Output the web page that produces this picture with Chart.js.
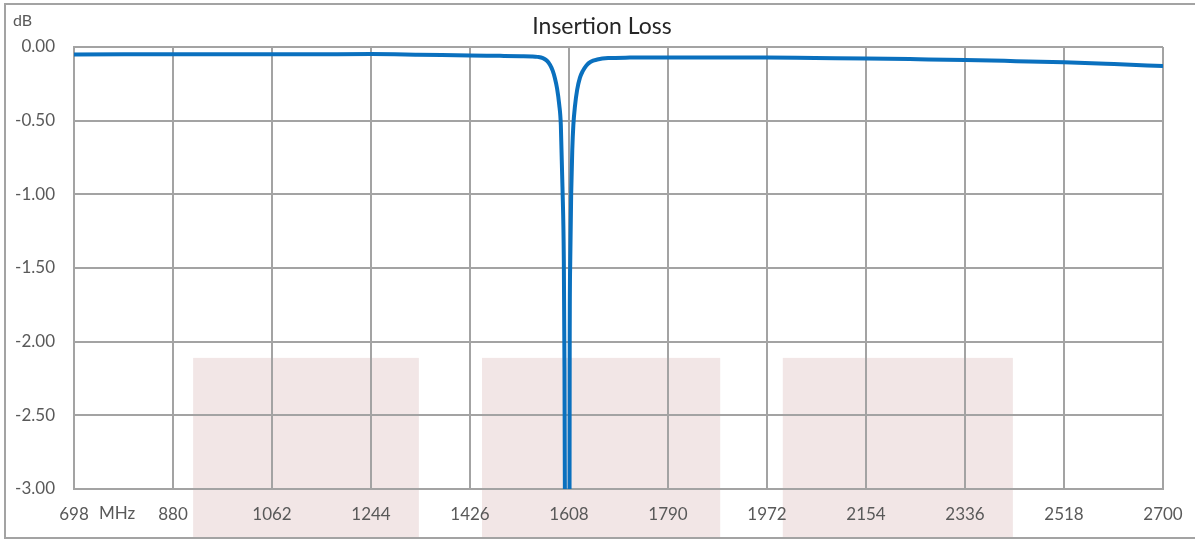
<!DOCTYPE html>
<html>
<head>
<meta charset="utf-8">
<script src="https://cdn.jsdelivr.net/npm/chart.js@4.4.1/dist/chart.umd.min.js"></script>
<style>
  html, body { margin: 0; padding: 0; background: #ffffff; }
  #wrap { width: 1195px; height: 540px; position: relative; }
</style>
</head>
<body>
<div id="wrap"><canvas id="c" width="1195" height="540"></canvas></div>
<script>
// ---- data ----
const titleText = 'Insertion Loss';
const yUnit = 'dB';
const xUnit = 'MHz';
const freqMHz = [698, 790, 880, 970, 1062, 1150, 1244, 1330, 1426, 1481, 1520, 1540, 1550, 1560, 1567, 1573, 1578, 1582, 1586, 1590, 1593, 1596, 1598.5, 1599.4, 1600.4, 1604.8, 1609.0, 1609.3, 1610.3, 1612, 1614, 1616, 1619, 1623, 1628, 1633, 1640, 1648, 1660, 1680, 1720, 1790, 1880, 1972, 2060, 2154, 2250, 2336, 2430, 2518, 2610, 2700];
const lossDb = [-0.051, -0.050, -0.049, -0.049, -0.050, -0.049, -0.048, -0.052, -0.058, -0.060, -0.062, -0.064, -0.067, -0.075, -0.092, -0.12, -0.16, -0.21, -0.28, -0.39, -0.53, -0.95, -1.45, -2.0, -3.0, -20, -3.0, -2.0, -1.45, -1.0, -0.70, -0.53, -0.40, -0.29, -0.21, -0.165, -0.125, -0.10, -0.085, -0.075, -0.072, -0.071, -0.071, -0.072, -0.075, -0.078, -0.083, -0.088, -0.096, -0.104, -0.116, -0.129];
const xTicks = [698, 880, 1062, 1244, 1426, 1608, 1790, 1972, 2154, 2336, 2518, 2700];
const yTicks = [0, -0.5, -1, -1.5, -2, -2.5, -3];
const bandStart = [917, 1448, 2001];
const bandEnd = [1332, 1886, 2424];
const bandTop = -2.11;

const FONT = 'Lato, "Open Sans", sans-serif';
const GRID = '#a3a3a3';
const LABEL = '#595959';

const decor = {
  id: 'decor',
  beforeDraw(chart) {
    const ctx = chart.ctx, x = chart.scales.x, y = chart.scales.y;
    ctx.save();
    ctx.fillStyle = '#f2e6e6';
    const top = y.getPixelForValue(bandTop);
    for (let i = 0; i < bandStart.length; i++) {
      const l = x.getPixelForValue(bandStart[i]);
      const r = x.getPixelForValue(bandEnd[i]);
      ctx.fillRect(l, top, r - l, 537 - top);
    }
    ctx.restore();
  },
  afterDraw(chart) {
    const ctx = chart.ctx, x = chart.scales.x;
    ctx.save();
    // outer frame
    ctx.strokeStyle = GRID;
    ctx.lineWidth = 2;
    ctx.strokeRect(5, 4, 1200, 534);
    // title
    ctx.fillStyle = '#262626';
    ctx.font = '23px ' + FONT;
    ctx.textAlign = 'center';
    ctx.textBaseline = 'middle';
    ctx.fillText(titleText, 602, 27);
    // y unit
    ctx.fillStyle = LABEL;
    ctx.font = '16px ' + FONT;
    ctx.textAlign = 'left';
    ctx.fillText(yUnit, 13, 21);
    // x unit next to first tick
    ctx.font = '17px ' + FONT;
    ctx.fillText(xUnit, x.getPixelForValue(xTicks[0]) + 25, 514);
    ctx.restore();
  }
};

new Chart(document.getElementById('c'), {
  type: 'line',
  data: {
    datasets: [{
      data: freqMHz.map((f, i) => ({ x: f, y: lossDb[i] })),
      borderColor: '#0a70be',
      borderWidth: 4,
      pointRadius: 0,
      fill: false,
      tension: 0,
      cubicInterpolationMode: 'monotone',
      clip: 0
    }]
  },
  options: {
    responsive: false,
    animation: false,
    devicePixelRatio: 1,
    layout: { padding: { left: 0, right: 32, top: 47, bottom: 0 } },
    plugins: { legend: { display: false }, tooltip: { enabled: false }, title: { display: false } },
    scales: {
      x: {
        type: 'linear',
        min: xTicks[0],
        max: xTicks[xTicks.length - 1],
        afterBuildTicks(s) { s.ticks = xTicks.map(v => ({ value: v })); },
        afterFit(s) { s.height = 51; s.paddingLeft = 0; s.paddingRight = 0; },
        grid: { color: GRID, lineWidth: 2, drawTicks: false },
        border: { color: GRID, width: 2 },
        ticks: {
          padding: 15,
          maxRotation: 0,
          autoSkip: false,
          color: LABEL,
          font: { family: FONT, size: 17 },
          callback: v => String(v)
        }
      },
      y: {
        type: 'linear',
        min: -3,
        max: 0,
        afterBuildTicks(s) { s.ticks = yTicks.map(v => ({ value: v })); },
        afterFit(s) { s.width = 74; s.paddingTop = 0; s.paddingBottom = 0; },
        grid: { color: GRID, lineWidth: 2, drawTicks: false },
        border: { color: GRID, width: 2 },
        ticks: {
          padding: 19,
          color: LABEL,
          font: { family: FONT, size: 17 },
          callback: v => (v === 0 ? '0.00' : Number(v).toFixed(2))
        }
      }
    }
  },
  plugins: [decor]
});
</script>
</body>
</html>
